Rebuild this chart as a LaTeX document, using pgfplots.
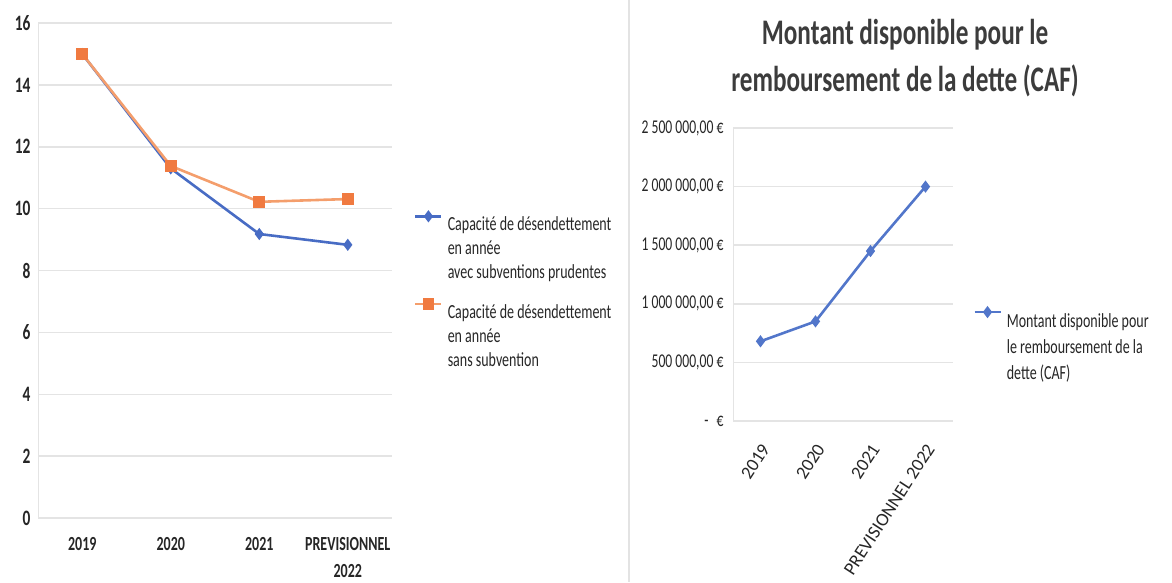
\documentclass[border=0pt]{standalone}
\usepackage{fontspec}
\setmainfont[FakeStretch=0.7]{Carlito}
\newfontfamily\plainfont{Carlito}
\usepackage{pgfplots}
\usepackage{pgfplotstable}
\pgfplotsset{compat=1.18}
\definecolor{xlblue}{RGB}{72,108,196}
\definecolor{xlblue2}{RGB}{82,118,202}
\definecolor{xlorange}{RGB}{244,158,108}
\definecolor{xlorangem}{RGB}{240,122,64}
\definecolor{gridc}{RGB}{228,228,228}
\definecolor{txt}{RGB}{38,38,38}
\definecolor{ttl}{RGB}{60,60,60}

\pgfplotstableread{
x sub nosub
0 15.0 15.0
1 11.30 11.38
2 9.18 10.22
3 8.83 10.31
}\capa
\pgfplotstableread{
x caf
0 680000
1 850000
2 1450000
3 2000000
}\caf

\pgfplotsset{
  base/.style={
    scale only axis,
    /pgf/number format/assume math mode=true,
    xmin=-0.5, xmax=3.5, xtick={0,1,2,3},
    major tick length=0pt,
    ymajorgrids,
    grid style={gridc, line width=1.5pt},
    axis lines*=left,
    axis line style={gridc, line width=1pt},
    tick label style={text=txt},
    legend style={draw=none, fill=none, inner sep=0pt, text=txt,
      nodes={inner sep=1pt},
      /tikz/every odd column/.append style={column sep=4pt}},
    legend cell align=left,
    legend image code/.code={\draw[mark repeat=2,mark phase=2,##1] plot coordinates {(0pt,7pt) (13pt,7pt) (26pt,7pt)};},
  }
}

\begin{document}
\begin{tikzpicture}
\useasboundingbox (0,0) rectangle (1172pt,-582pt);
\draw[gray!22, line width=1.5pt] (629pt,0pt) -- (629pt,-582pt);

\begin{axis}[base,
  at={(38pt,-518pt)}, anchor=south west,
  width=354pt, height=495pt,
  ymin=0, ymax=16, ytick={0,2,...,16},
  xticklabels={2019,2020,2021,{PREVISIONNEL\\2022}},
  xticklabel style={align=center, font=\bfseries\fontsize{20}{27}\selectfont, yshift=-16pt},
  yticklabel style={font=\bfseries\fontsize{22}{24}\selectfont, xshift=-4pt},
  legend style={at={(1.062,0.618)}, anchor=north west, row sep=66pt,
    font=\fontsize{20}{24}\selectfont},
]
\addplot[xlblue, line width=2.6pt, mark=diamond*, mark size=4pt] table[x=x,y=sub]{\capa};
\addlegendentry{\begin{tabular}[t]{@{}l@{}}Capacité de désendettement\\ en année\\ avec subventions prudentes\end{tabular}}
\addplot[xlorange, line width=2.6pt, mark=square*, mark size=4.5pt, mark options={fill=xlorangem, draw=xlorangem}] table[x=x,y=nosub]{\capa};
\addlegendentry{\begin{tabular}[t]{@{}l@{}}Capacité de désendettement\\ en année\\ sans subvention\end{tabular}}
\end{axis}

\begin{axis}[base,
  at={(733pt,-421pt)}, anchor=south west,
  width=220pt, height=293pt,
  ymin=0, ymax=2500000, ytick={0,500000,1000000,1500000,2000000,2500000},
  scaled y ticks=false,
  yticklabels={{-\hspace{8pt}€},{500 000,00 €},{1 000 000,00 €},{1 500 000,00 €},{2 000 000,00 €},{2 500 000,00 €}},
  yticklabel style={font=\fontsize{19.5}{20}\selectfont, xshift=-6pt},
  xticklabels={2019,2020,2021,PREVISIONNEL 2022},
  xticklabel style={xshift=7pt, yshift=-22pt, rotate=57, anchor=east, font=\plainfont\fontsize{18.5}{20}\selectfont},
  title={Montant disponible pour le\\remboursement de la dette (CAF)},
  title style={at={(0.782,1)}, anchor=south, align=center, yshift=22pt,
    text=ttl, font=\bfseries\fontsize{36}{47}\selectfont},
  legend style={at={(1.091,0.386)}, anchor=north west,
    font=\fontsize{20}{26}\selectfont},
]
\addplot[xlblue2, line width=2.6pt, mark=diamond*, mark size=4pt] table[x=x,y=caf]{\caf};
\addlegendentry{\begin{tabular}[t]{@{}l@{}}Montant disponible pour\\ le remboursement de la\\ dette (CAF)\end{tabular}}
\end{axis}
\end{tikzpicture}
\end{document}
